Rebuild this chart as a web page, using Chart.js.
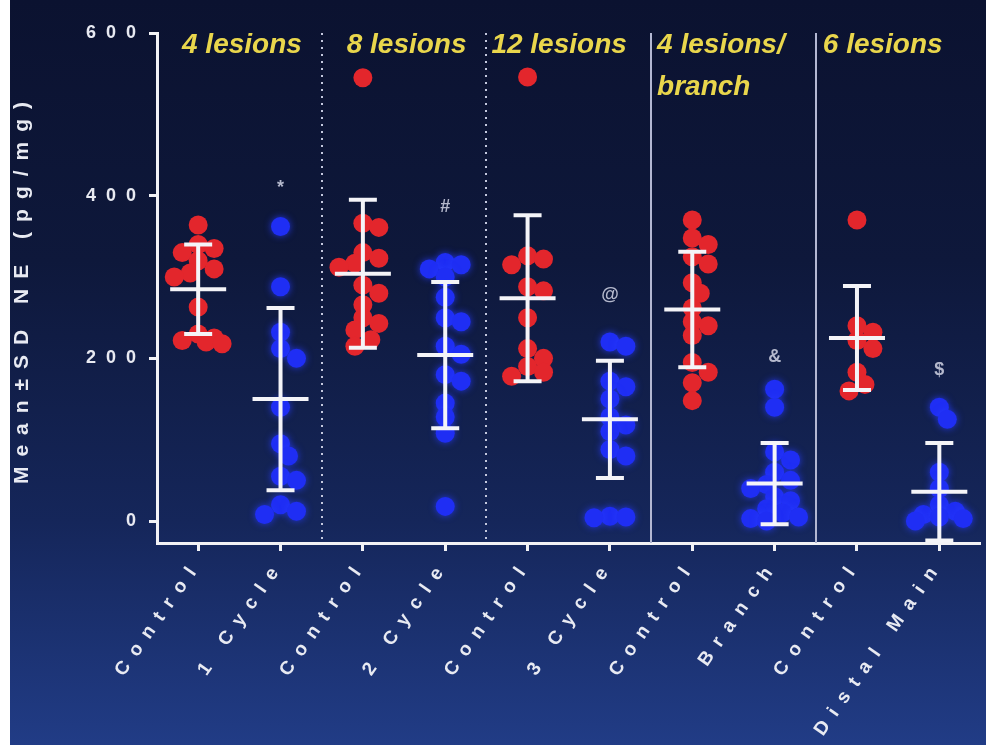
<!DOCTYPE html>
<html>
<head>
<meta charset="utf-8">
<script src="https://cdn.jsdelivr.net/npm/chart.js@4.4.1/dist/chart.umd.min.js"></script>
<style>
html, body { margin: 0; padding: 0; background: #fff; }
#wrap { position: absolute; left: 0; top: 0; width: 990px; height: 752px; }
#bg { position: absolute; left: 10px; top: 0; width: 976px; height: 745px;
  background: linear-gradient(180deg, #0b1230 0%, #0e183b 35%, #15265a 70%, #213c86 100%); }
canvas { position: absolute; left: 0; top: 0; }
</style>
</head>
<body>
<div id="wrap"><div id="bg"></div><canvas id="myChart" width="990" height="752"></canvas></div>
<script>
var categories = ['Control', '1 Cycle', 'Control', '2 Cycle', 'Control', '3 Cycle', 'Control', 'Branch', 'Control', 'Distal Main']
var groupLabels = [['4 lesions'], ['8 lesions'], ['12 lesions'], ['4 lesions/', 'branch'], ['6 lesions']]
var separators = ['dotted', 'dotted', 'solid', 'solid']
var yTicks = [0, 200, 400, 600]

// NE values per animal, pg/mg
var control4 = [364, 340, 335, 330, 320, 310, 305, 300, 263, 230, 225, 222, 220, 218]
var cycle1 = [362, 288, 232, 212, 200, 140, 95, 80, 55, 50, 20, 12, 8]
var control8 = [545, 366, 361, 330, 323, 317, 312, 290, 280, 266, 250, 243, 235, 223, 215]
var cycle2 = [318, 315, 310, 300, 275, 250, 245, 215, 205, 180, 172, 145, 128, 108, 18]
var control12 = [546, 326, 322, 315, 288, 283, 250, 212, 200, 190, 183, 178]
var cycle3 = [220, 215, 172, 165, 150, 128, 118, 110, 88, 80, 6, 5, 4]
var controlBranch = [370, 348, 340, 325, 316, 293, 280, 262, 245, 240, 228, 195, 183, 170, 148]
var branch = [162, 140, 85, 75, 60, 50, 45, 40, 30, 25, 15, 10, 5, 3, 0]
var control6 = [370, 240, 232, 222, 212, 183, 168, 160]
var distalMain = [140, 125, 60, 40, 20, 12, 8, 5, 3, 0]

var means = [285, 150, 304, 204, 274, 125, 260, 46, 225, 36]
var sds = [55, 112, 91, 90, 102, 72, 71, 50, 64, 60]
var markers = ['', '*', '', '#', '', '@', '', '&', '', '$']
var markerValues = [null, 410, null, 386, null, 278, null, 202, null, 186]

var groupsData = [control4, cycle1, control8, cycle2, control12, cycle3, controlBranch, branch, control6, distalMain]

// rough pixel sizes used only to spread overlapping dots sideways
var PX_PER_CAT = 82.6
var PX_PER_VAL = 0.8134
var MIN_GAP = 13
var headingPad = [25, 25, 5, 6, 7]

function swarm(values, idx) {
    var placed = []
    return values.map(function(v) {
        var vy = v * PX_PER_VAL
        var best = 0, bestDist = -1
        for (var k = 0; k <= 6; k++) {
            var step = Math.ceil(k / 2) * (k % 2 ? 1 : -1) * 8
            var nearest = placed.reduce(function(m, p) {
                var dx = p.x - step, dy = p.y - vy
                return Math.min(m, Math.sqrt(dx * dx + dy * dy))
            }, 1e9)
            if (nearest >= MIN_GAP) { best = step; bestDist = nearest; break }
            if (nearest > bestDist) { best = step; bestDist = nearest }
        }
        placed.push({x: best, y: vy})
        return {x: idx + best / PX_PER_CAT, y: v}
    })
}

var redPoints = []
var bluePoints = []
groupsData.forEach(function(vals, i) {
    var pts = swarm(vals, i)
    if (i % 2 === 0) redPoints = redPoints.concat(pts)
    else bluePoints = bluePoints.concat(pts)
})

var glow = {
    id: 'glow',
    beforeDatasetDraw: function(chart, args) {
        if (args.index === 1) {
            chart.ctx.save()
            chart.ctx.shadowColor = 'rgba(40,60,255,0.8)'
            chart.ctx.shadowBlur = 7
        }
    },
    afterDatasetDraw: function(chart, args) {
        if (args.index === 1) chart.ctx.restore()
    }
}

var decorations = {
    id: 'decorations',
    beforeDraw: function(chart) {
        chart.ctx.letterSpacing = '10px'
    },
    beforeDatasetsDraw: function(chart) {
        var ctx = chart.ctx, x = chart.scales.x, area = chart.chartArea
        ctx.save()
        separators.forEach(function(style, i) {
            var px = Math.round(x.getPixelForValue(i * 2 + 1.5))
            ctx.beginPath()
            if (style === 'dotted') {
                ctx.setLineDash([2, 5])
                ctx.strokeStyle = '#c4c8de'
            } else {
                ctx.setLineDash([])
                ctx.strokeStyle = '#b3b7d2'
            }
            ctx.lineWidth = 2
            ctx.moveTo(px, area.top)
            ctx.lineTo(px, area.bottom)
            ctx.stroke()
        })
        ctx.restore()
    },
    afterDatasetsDraw: function(chart) {
        var ctx = chart.ctx, x = chart.scales.x, y = chart.scales.y
        ctx.save()
        ctx.strokeStyle = '#f4f4f8'
        ctx.lineWidth = 4
        means.forEach(function(m, i) {
            var cx = x.getPixelForValue(i)
            var top = y.getPixelForValue(m + sds[i])
            var bot = y.getPixelForValue(m - sds[i])
            var mid = y.getPixelForValue(m)
            ctx.beginPath()
            ctx.moveTo(cx, top); ctx.lineTo(cx, bot)
            ctx.moveTo(cx - 14, top); ctx.lineTo(cx + 14, top)
            ctx.moveTo(cx - 14, bot); ctx.lineTo(cx + 14, bot)
            ctx.moveTo(cx - 28, mid); ctx.lineTo(cx + 28, mid)
            ctx.stroke()
        })
        ctx.restore()
    },
    afterDraw: function(chart) {
        var ctx = chart.ctx, x = chart.scales.x, y = chart.scales.y, area = chart.chartArea
        ctx.save()
        ctx.letterSpacing = '0px'

        // significance symbols over the treated groups
        ctx.fillStyle = '#b4b8cc'
        ctx.font = 'bold 18px "Liberation Sans", Arial, sans-serif'
        ctx.textAlign = 'center'
        ctx.textBaseline = 'middle'
        markers.forEach(function(s, i) {
            if (!s) return
            ctx.fillText(s, x.getPixelForValue(i), y.getPixelForValue(markerValues[i]))
        })

        // lesion group headings
        ctx.fillStyle = '#e9d64c'
        ctx.font = 'italic bold 28px "Liberation Sans", Arial, sans-serif'
        ctx.textAlign = 'left'
        ctx.textBaseline = 'alphabetic'
        groupLabels.forEach(function(lines, g) {
            var left = g === 0 ? area.left : x.getPixelForValue(g * 2 - 0.5)
            lines.forEach(function(t, k) {
                ctx.fillText(t, left + headingPad[g], 53 + k * 42)
            })
        })
        ctx.restore()
    }
}

let ctx1 = document.getElementById('myChart').getContext('2d')
let chart1 = new Chart(ctx1, {
    type: 'scatter',
    data: {
        datasets: [{
            data: redPoints,
            backgroundColor: '#e3262c',
            borderWidth: 0,
            pointRadius: 9.5
        }, {
            data: bluePoints,
            backgroundColor: '#1f2ef4',
            borderWidth: 0,
            pointRadius: 9.5
        }]
    },
    options: {
        responsive: false,
        animation: false,
        layout: { padding: { top: 33, right: 7, left: 0, bottom: 0 } },
        plugins: {
            legend: { display: false },
            tooltip: { enabled: false }
        },
        scales: {
            x: {
                type: 'linear',
                min: -0.5,
                max: 9.5,
                afterBuildTicks: function(axis) {
                    axis.ticks = categories.map(function(c, i) { return {value: i} })
                },
                afterFit: function(axis) { axis.height = 209 },
                border: { display: true, color: '#f2f2f6', width: 3 },
                grid: { drawOnChartArea: false, tickLength: 8, tickWidth: 3, tickColor: '#f2f2f6' },
                ticks: {
                    autoSkip: false,
                    maxRotation: 55,
                    minRotation: 55,
                    padding: 4,
                    color: '#e8eaf2',
                    font: { family: '"Liberation Sans", Arial, sans-serif', size: 19, weight: 'bold' },
                    callback: function(v) { return categories[v] }
                }
            },
            y: {
                min: -27,
                max: 600,
                afterBuildTicks: function(axis) {
                    axis.ticks = yTicks.map(function(v) { return {value: v} })
                },
                afterFit: function(axis) { axis.width = 157 },
                border: { display: true, color: '#f2f2f6', width: 3 },
                grid: { drawOnChartArea: false, tickLength: 8, tickWidth: 3, tickColor: '#f2f2f6' },
                ticks: {
                    padding: 3,
                    color: '#e8eaf2',
                    font: { family: '"Liberation Sans", Arial, sans-serif', size: 18, weight: 'bold' }
                },
                title: {
                    display: true,
                    text: 'Mean±SD NE (pg/mg)',
                    color: '#e8eaf2',
                    padding: { top: 10 },
                    font: { family: '"Liberation Sans", Arial, sans-serif', size: 21, weight: 'bold' }
                }
            }
        }
    },
    plugins: [glow, decorations]
})
</script>
</body>
</html>
